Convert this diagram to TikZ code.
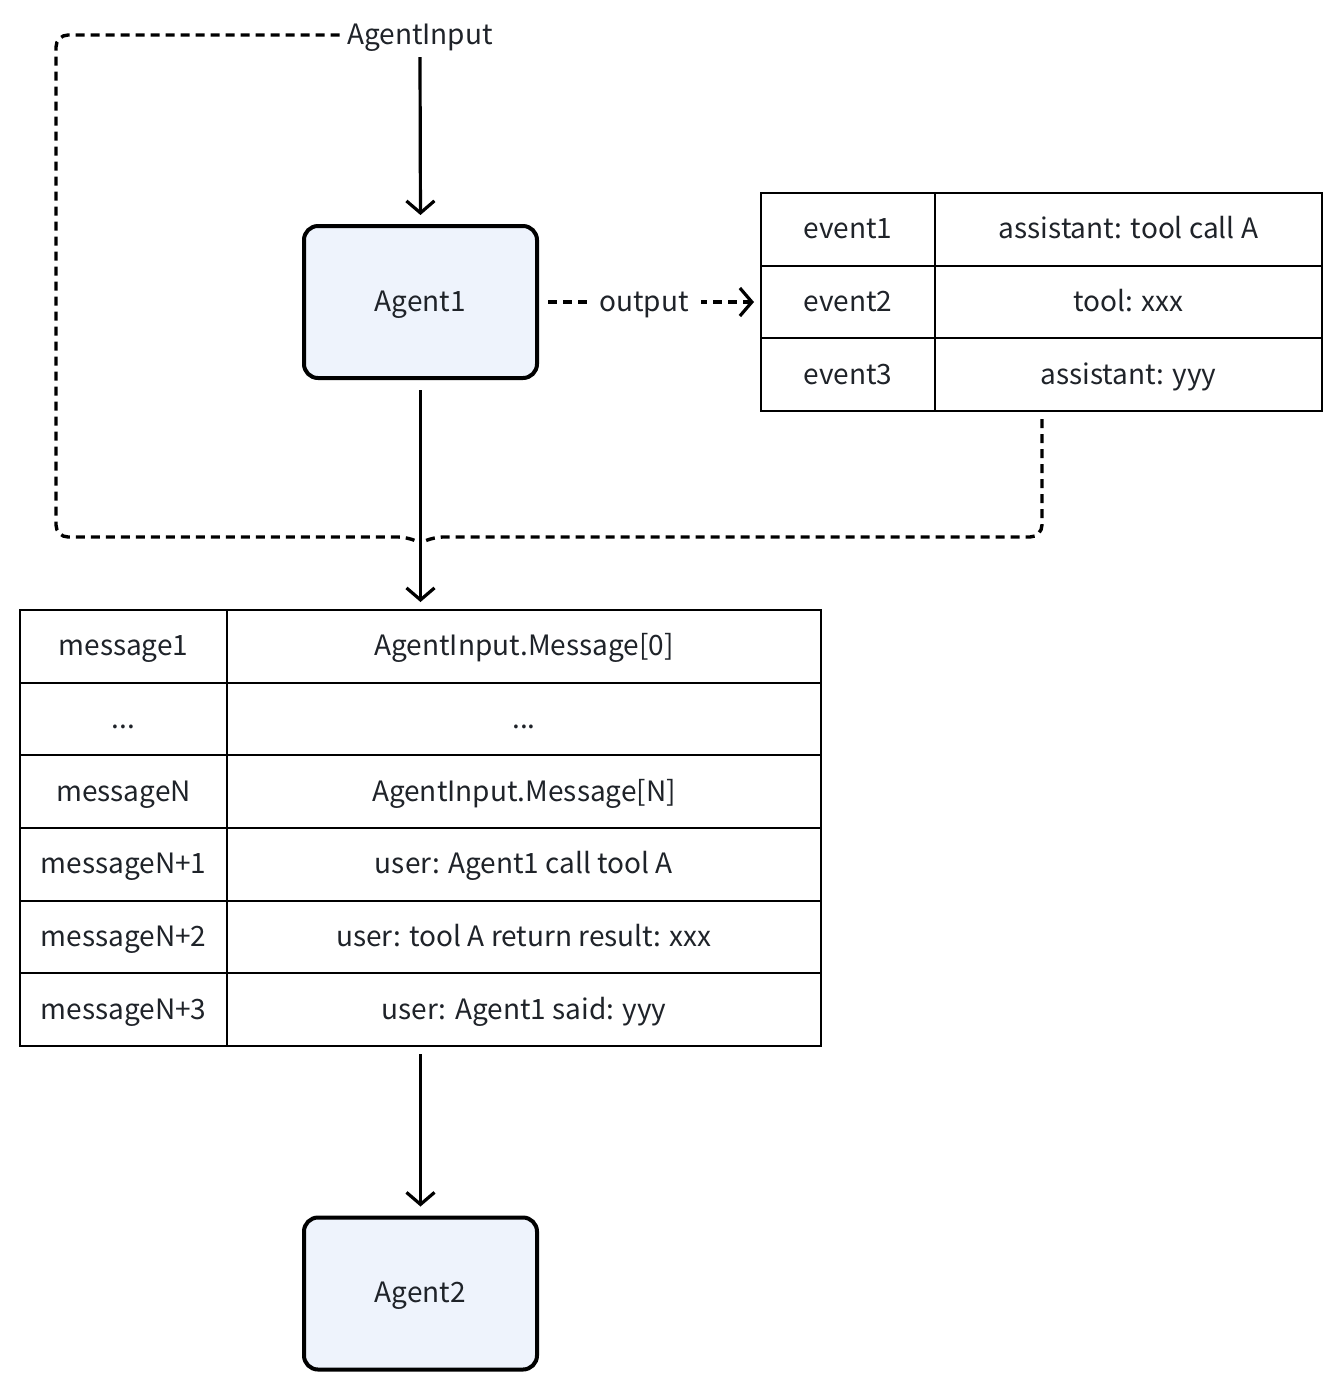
\documentclass[tikz,border=0pt]{standalone}
\usepackage{fontspec}
\setmainfont{Noto Sans CJK SC}
\usetikzlibrary{arrows.meta}
\definecolor{agentfill}{HTML}{EEF3FC}
\definecolor{txt}{HTML}{1F2329}
\begin{document}
\begin{tikzpicture}[x=0.5pt,y=-0.5pt,
  font=\fontsize{14}{17}\selectfont, text=txt,
  every node/.style={text height=0.96em, text depth=0.02em},
  agent/.style={draw=black, line width=2pt, fill=agentfill, rounded corners=7pt,
    minimum width=116.5pt, minimum height=76pt, inner sep=0pt},
  cell/.style={draw=black, line width=1pt, minimum height=36.3pt, inner sep=0pt},
  ca/.style={cell, minimum width=87pt},
  cb/.style={cell, minimum width=193.5pt},
  ma/.style={cell, minimum width=103.5pt},
  mb/.style={cell, minimum width=297pt},
  arr/.style={draw=black, line width=1.6pt, -{Straight Barb[length=6pt,width=14pt,line width=1.6pt]}},
  dashline/.style={draw=black, line width=1.7pt, dash pattern=on 4.5pt off 3pt},
]
\useasboundingbox (0,0) rectangle (1342,1389);

% texts and agents
\node[inner xsep=3.5pt, inner ysep=6pt] (inp) at (420,35) {AgentInput};
\node[agent] (a1) at (420.5,302) {Agent1};
\node[agent] (a2) at (420.5,1293.5) {Agent2};

% event table
\node[ca] (e1a) at (848,229.3) {event1};
\node[cb] (e1b) at (1128.5,229.3) {assistant: tool call A};
\node[ca] (e2a) at (848,302) {event2};
\node[cb] (e2b) at (1128.5,302) {tool: xxx};
\node[ca] (e3a) at (848,374.7) {event3};
\node[cb] (e3b) at (1128.5,374.7) {assistant: yyy};

% message table
\node[ma] (m1a) at (123.5,646.3) {message1};
\node[mb] (m1b) at (524,646.3) {AgentInput.Message[0]};
\node[ma] (m2a) at (123.5,719) {...};
\node[mb] (m2b) at (524,719) {...};
\node[ma] (m3a) at (123.5,791.7) {messageN};
\node[mb] (m3b) at (524,791.7) {AgentInput.Message[N]};
\node[ma] (m4a) at (123.5,864.3) {messageN+1};
\node[mb] (m4b) at (524,864.3) {user: Agent1 call tool A};
\node[ma] (m5a) at (123.5,937) {messageN+2};
\node[mb] (m5b) at (524,937) {user: tool A return result: xxx};
\node[ma] (m6a) at (123.5,1009.7) {messageN+3};
\node[mb] (m6b) at (524,1009.7) {user: Agent1 said: yyy};

% coordinates for dashed loop
\coordinate (join) at (420.5,543);
\coordinate (evout) at (1042,419);

% dashed loop
\draw[dashline, rounded corners=6pt] (inp.west) -| (56,537) -- (410,537) -- (join);
\draw[dashline, rounded corners=6pt] (evout) |- (431,537) -- (join);

% arrows
\draw[arr, shorten >=4.5pt] (inp.south) -- (a1.north);
\draw[arr, shorten <=5pt, shorten >=3.5pt] (a1.south) -- (a1.south |- m1b.north);
\draw[arr, shorten <=3.5pt, shorten >=4.5pt] (a2.north |- m6b.south) -- (a2.north);
\draw[dashline, -{Straight Barb[length=6pt,width=14pt,line width=1.6pt]}, shorten <=4.5pt, shorten >=3pt]
  (a1.east) -- node[pos=0.475, fill=white, inner xsep=6pt] {output} (e2a.west);
\end{tikzpicture}
\end{document}
